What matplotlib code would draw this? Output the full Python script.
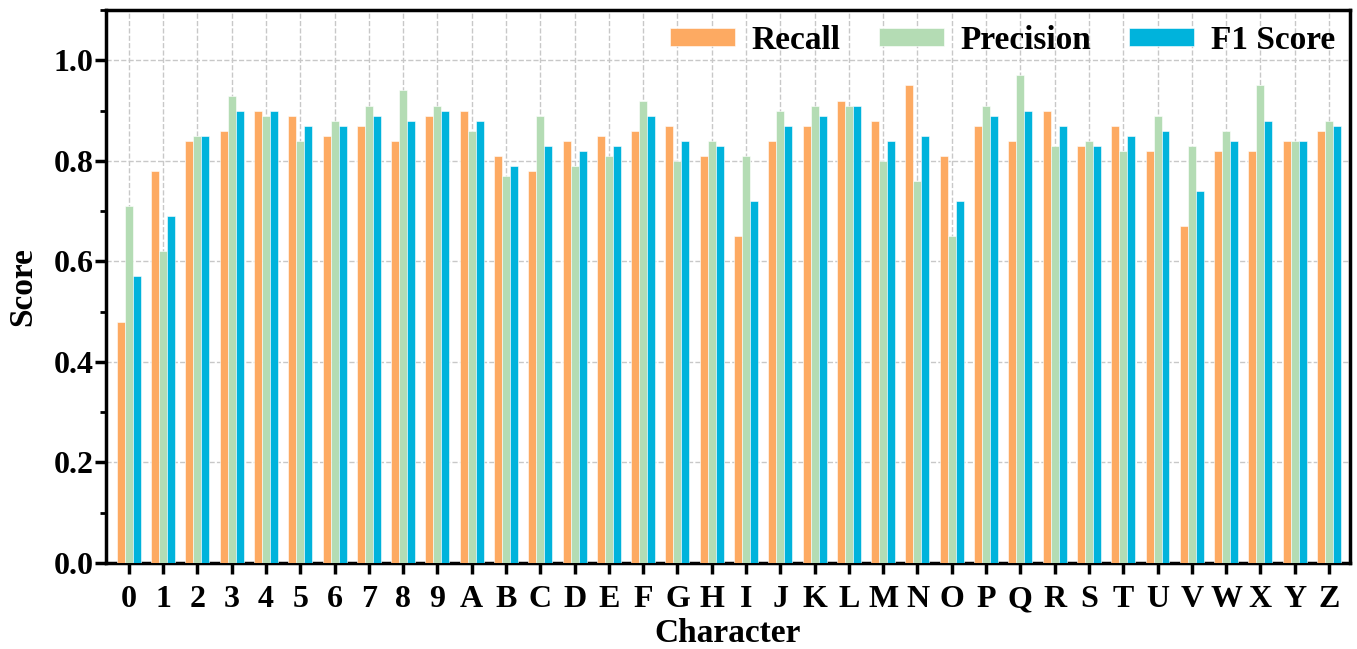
import matplotlib
matplotlib.use("Agg")
import matplotlib.pyplot as plt
import numpy as np
from matplotlib.ticker import MultipleLocator, FormatStrFormatter

matplotlib.rcParams.update({
    "font.family": ["Liberation Serif", "DejaVu Serif"],
    "font.weight": "bold",
    "axes.labelweight": "bold",
})

CHARACTERS = list("0123456789ABCDEFGHIJKLMNOPQRSTUVWXYZ")

RECALL = [0.48, 0.78, 0.84, 0.86, 0.90, 0.89, 0.85, 0.87, 0.84, 0.89,
          0.90, 0.81, 0.78, 0.84, 0.85, 0.86, 0.87, 0.81, 0.65, 0.84,
          0.87, 0.92, 0.88, 0.95, 0.81, 0.87, 0.84, 0.90, 0.83, 0.87,
          0.82, 0.67, 0.82, 0.82, 0.84, 0.86]
PRECISION = [0.71, 0.62, 0.85, 0.93, 0.89, 0.84, 0.88, 0.91, 0.94, 0.91,
             0.86, 0.77, 0.89, 0.79, 0.81, 0.92, 0.80, 0.84, 0.81, 0.90,
             0.91, 0.91, 0.80, 0.76, 0.65, 0.91, 0.97, 0.83, 0.84, 0.82,
             0.89, 0.83, 0.86, 0.95, 0.84, 0.88]
F1 = [0.57, 0.69, 0.85, 0.90, 0.90, 0.87, 0.87, 0.89, 0.88, 0.90,
      0.88, 0.79, 0.83, 0.82, 0.83, 0.89, 0.84, 0.83, 0.72, 0.87,
      0.89, 0.91, 0.84, 0.85, 0.72, 0.89, 0.90, 0.87, 0.83, 0.85,
      0.86, 0.74, 0.84, 0.88, 0.84, 0.87]

SERIES = [("Recall", RECALL, "#FDAA62"),
          ("Precision", PRECISION, "#B4DCB4"),
          ("F1 Score", F1, "#00B3DC")]


def main():
    fig = plt.figure(figsize=(13.57, 6.49), dpi=100)
    ax = fig.add_axes([0.078, 0.1325, 0.917, 0.852])

    x = np.arange(len(CHARACTERS))
    width = 0.233
    for i, (name, vals, color) in enumerate(SERIES):
        ax.bar(x + (i - 1) * width, vals, width, color=color,
               edgecolor="white", linewidth=0.4, label=name, zorder=3)

    ax.set_xlim(-0.67, 35.62)
    ax.set_ylim(0, 1.1)
    ax.set_xticks(x)
    ax.set_xticklabels(CHARACTERS)
    ax.yaxis.set_major_locator(MultipleLocator(0.2))
    ax.yaxis.set_minor_locator(MultipleLocator(0.1))
    ax.yaxis.set_major_formatter(FormatStrFormatter("%.1f"))

    ax.grid(True, which="major", color="#C8C8C8", linestyle="--",
            linewidth=1.0, zorder=0)
    ax.set_axisbelow(True)

    for s in ax.spines.values():
        s.set_linewidth(2.5)
        s.set_color("black")
    ax.tick_params(axis="x", which="major", direction="out", length=8,
                   width=2.5, labelsize=23, pad=8)
    ax.tick_params(axis="y", which="major", direction="out", length=8,
                   width=2.5, labelsize=23, pad=1)
    ax.tick_params(axis="y", which="minor", direction="out", length=4,
                   width=2.0)
    for lbl in ax.get_xticklabels() + ax.get_yticklabels():
        lbl.set_fontweight("bold")

    ax.set_xlabel("Character", fontsize=24, fontweight="bold", labelpad=3)
    ax.set_ylabel("Score", fontsize=24, fontweight="bold", labelpad=11)

    ax.legend(loc="upper right", ncol=3, frameon=False,
              prop={"size": 24, "weight": "bold"},
              handlelength=1.95, handleheight=0.45, columnspacing=1.15,
              handletextpad=0.5, borderaxespad=0.0, borderpad=0.45)

    fig.savefig("out.png", dpi=100)
    plt.close(fig)


if __name__ == "__main__":
    main()
